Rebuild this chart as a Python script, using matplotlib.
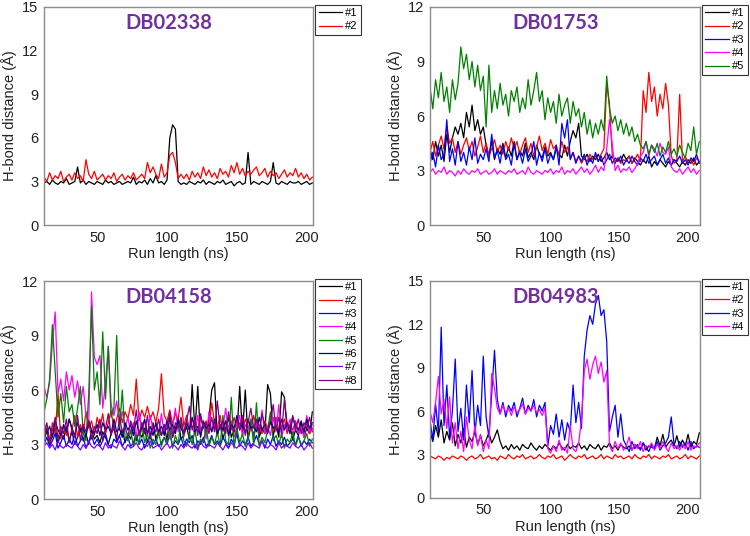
import numpy as np
import matplotlib
matplotlib.use("Agg")
import matplotlib.pyplot as plt

plt.rcParams['font.family'] = ['Liberation Sans', 'DejaVu Sans']

# ---------------- DB02338 ----------------
db02338_1 = [2.9, 3.0, 2.8, 3.1, 2.9, 2.8, 3.0, 2.9, 3.2, 2.8,
             2.9, 3.0, 4.0, 2.9, 3.1, 2.8, 3.0, 2.9, 2.8, 3.0,
             2.9, 2.8, 3.1, 2.9, 3.0, 2.8, 2.9, 3.0, 2.8, 2.9,
             3.0, 2.9, 3.3, 2.8, 3.0, 2.9, 3.1, 2.8, 3.2, 2.9,
             3.4, 2.9, 3.0, 2.8, 3.1, 6.0, 6.9, 6.6, 3.0, 2.8,
             2.9, 2.8, 3.0, 2.9, 2.8, 3.0, 2.9, 3.1, 2.8, 3.0,
             2.9, 2.8, 3.0, 2.9, 3.1, 2.8, 2.9, 3.0, 2.7, 2.9,
             3.0, 2.8, 2.9, 5.0, 2.8, 3.0, 2.9, 2.8, 3.0, 2.9,
             2.8, 3.0, 4.3, 2.9, 2.8, 3.0, 2.9, 2.8, 3.0, 2.9,
             2.9, 3.0, 2.8, 2.9, 3.0, 2.8, 2.9]
db02338_2 = [3.3, 3.0, 3.6, 3.1, 3.4, 3.2, 3.7, 3.0, 3.3, 3.5,
             3.1, 3.6, 3.2, 3.4, 3.0, 4.5, 3.5, 3.2, 3.7, 3.1,
             3.3, 3.5, 3.1, 3.4, 3.2, 3.6, 3.0, 3.3, 3.5, 3.1,
             3.4, 3.2, 3.6, 3.1, 3.3, 3.5, 3.2, 4.3, 3.6, 4.0,
             3.5, 3.2, 4.2, 3.3, 3.6, 4.8, 5.0, 4.3, 3.2, 3.5,
             3.2, 3.5, 3.1, 3.7, 3.3, 3.6, 3.2, 4.0, 3.4, 3.8,
             3.3, 3.6, 3.2, 3.9, 3.5, 3.7, 3.3, 4.1, 3.6, 4.3,
             3.5, 3.9, 3.4, 3.7, 3.5, 3.8, 4.0, 3.4, 3.6, 3.9,
             3.3, 3.7, 3.4, 3.6, 3.2, 3.5, 3.8, 3.3, 3.6, 3.4,
             3.9, 3.3, 3.6, 3.2, 3.5, 3.1, 3.3]

# ---------------- DB01753 ----------------
db01753_1 = [4.2, 3.6, 4.6, 3.8, 4.4, 3.5, 5.0, 4.0, 4.8, 5.4,
             5.0, 5.6, 4.8, 6.2, 5.4, 6.6, 5.2, 5.8, 5.0, 5.4,
             4.4, 3.8, 4.6, 3.6, 4.2, 3.9, 4.5, 3.7, 4.3, 3.8,
             4.6, 3.6, 4.1, 3.8, 4.5, 3.7, 4.0, 3.6, 4.4, 3.9,
             3.7, 4.3, 3.8, 4.0, 3.6, 4.2, 3.9, 3.7, 4.4, 3.8,
             4.6, 5.2, 4.8, 5.6, 3.8, 3.6, 3.9, 3.5, 3.8, 3.6,
             3.9, 3.5, 3.7, 4.0, 3.6, 3.8, 3.4, 3.7, 3.5, 3.9,
             3.6, 3.8, 3.4, 3.7, 3.5, 3.3, 3.6, 3.4, 3.8, 3.2,
             3.5, 3.3, 3.6, 3.4, 3.2, 3.5, 3.3, 3.6, 3.4, 3.2,
             3.5, 3.3, 3.6, 3.4, 3.7, 3.3, 3.5]
db01753_2 = [4.0, 4.6, 3.8, 4.4, 4.9, 4.2, 5.4, 4.5, 4.8, 4.0,
             4.6, 3.9, 4.4, 4.8, 4.1, 4.6, 3.8, 4.3, 4.9, 4.0,
             4.5, 3.8, 4.2, 4.7, 4.0, 4.4, 3.9, 4.6, 4.1, 4.8,
             4.2, 4.6, 3.9, 4.4, 4.8, 4.0, 4.5, 3.8, 4.3, 4.9,
             4.1, 4.5, 3.9, 4.7, 4.2, 4.4, 3.8, 4.6, 4.0, 4.3,
             3.7, 4.0, 3.5, 3.8, 3.4, 3.7, 3.5, 3.9, 3.6, 3.8,
             3.5, 3.9, 4.2, 7.8, 6.6, 3.8, 3.5, 3.7, 3.4, 3.6,
             3.5, 3.8, 3.4, 3.6, 3.9, 3.5, 7.4, 6.2, 8.4, 6.8,
             7.6, 6.0, 7.2, 6.4, 7.8, 6.6, 3.8, 3.4, 3.6, 7.2,
             3.5, 3.8, 3.4, 3.6, 3.3, 3.7, 3.5]
db01753_3 = [3.4, 4.0, 3.2, 4.4, 3.6, 3.9, 5.8, 3.5, 4.2, 3.3,
             4.6, 3.5, 4.0, 3.3, 4.3, 3.6, 4.8, 3.4, 3.9, 3.6,
             4.2, 3.5, 5.0, 3.7, 4.1, 3.4, 4.4, 3.6, 3.9, 3.3,
             4.5, 3.6, 4.0, 3.4, 4.2, 3.5, 3.8, 4.6, 3.3, 4.0,
             3.5, 4.2, 3.4, 3.9, 3.6, 4.4, 3.3, 5.6, 4.8, 5.8,
             3.6, 4.0, 3.4, 3.8, 3.5, 3.9, 3.3, 3.7, 3.4, 4.0,
             3.5, 3.8, 3.3, 3.6, 3.9, 3.4, 3.7, 3.5, 3.8, 3.3,
             3.6, 3.4, 3.8, 3.5, 3.3, 3.7, 3.5, 3.9, 3.4, 3.6,
             3.8, 3.3, 3.6, 3.9, 3.4, 3.7, 3.3, 3.6, 3.5, 3.8,
             3.4, 3.6, 3.3, 3.7, 3.5, 3.9, 3.4]
db01753_4 = [2.9, 3.1, 2.8, 3.0, 2.9, 3.2, 2.8, 3.0, 2.9, 2.7,
             3.0, 2.8, 3.1, 2.9, 2.8, 3.0, 2.9, 3.1, 2.8, 2.9,
             3.0, 2.8, 2.9, 3.1, 2.8, 3.0, 2.9, 2.8, 3.0, 2.9,
             3.1, 2.8, 2.9, 3.0, 2.8, 3.2, 2.9, 2.8, 3.0, 2.9,
             2.8, 3.0, 2.9, 3.1, 2.8, 3.0, 2.9, 3.2, 2.8, 3.0,
             2.9, 3.1, 2.8, 3.0, 3.2, 2.9, 3.1, 2.8, 3.0, 3.3,
             2.9, 3.2, 3.0, 4.2, 5.8, 4.4, 3.0, 3.3, 2.9, 3.1,
             3.0, 3.2, 2.9, 3.1, 3.4, 3.8, 4.0, 4.6, 3.8, 4.4,
             4.2, 3.8, 4.5, 4.0, 3.9, 4.3, 3.2, 3.0, 2.9, 3.1,
             2.8, 3.0, 3.2, 2.9, 3.1, 2.8, 3.0]
db01753_5 = [7.6, 6.4, 8.0, 7.0, 8.4, 6.8, 7.6, 6.2, 8.0, 6.9,
             7.8, 9.8, 8.6, 9.4, 8.0, 9.0, 7.6, 8.8, 7.4, 8.2,
             5.4, 8.8, 6.2, 7.4, 6.4, 7.8, 6.6, 7.2, 6.0, 7.4,
             6.8, 7.6, 6.2, 7.0, 6.4, 8.0, 6.6, 7.4, 8.4, 6.8,
             7.4, 5.8, 7.0, 6.2, 6.8, 5.6, 7.2, 6.0, 6.6, 7.0,
             5.6, 6.8, 6.0, 6.4, 5.4, 6.2, 5.0, 5.8, 4.8, 5.6,
             5.0, 5.8, 5.2, 8.2, 6.4, 5.6, 6.0, 5.2, 5.8, 5.0,
             5.6, 4.9, 5.4, 4.6, 5.0, 4.4, 4.2, 4.6, 3.9, 4.4,
             4.0, 4.5, 3.8, 4.3, 4.0, 4.6, 3.9, 4.2, 3.8, 4.4,
             4.0, 3.7, 4.5, 4.1, 5.4, 3.9, 4.6]

# ---------------- DB04158 ----------------
db04158_1 = [3.2, 3.8, 3.0, 3.5, 3.9, 3.1, 3.6, 3.3, 4.0, 3.2,
             3.7, 3.0, 3.4, 3.9, 3.2, 3.6, 3.0, 3.8, 3.3, 3.5,
             3.1, 3.7, 3.4, 3.0, 3.6, 3.9, 3.2, 3.5, 3.8, 3.1,
             3.6, 3.3, 4.0, 3.2, 3.7, 3.4, 3.9, 3.1, 3.5, 4.2,
             3.3, 3.8, 3.5, 4.1, 3.2, 4.6, 3.4, 3.9, 4.4, 3.3,
             3.5, 4.0, 3.3, 6.3, 3.8, 6.2, 3.4, 4.2, 3.6, 4.4,
             6.0, 6.4, 3.5, 4.1, 3.3, 3.9, 4.5, 3.4, 3.8, 3.5,
             6.2, 3.6, 6.0, 3.3, 4.0, 3.5, 4.3, 3.4, 3.9, 3.6,
             6.3, 5.8, 3.5, 4.1, 3.4, 5.9, 5.6, 3.7, 4.0, 3.3,
             3.8, 3.5, 4.2, 3.4, 3.9, 3.6, 4.8]
db04158_2 = [3.4, 3.9, 3.1, 4.2, 3.6, 5.8, 3.3, 4.0, 3.5, 4.4,
             3.8, 4.6, 3.4, 4.1, 3.6, 4.8, 3.9, 4.3, 3.5, 4.5,
             3.9, 4.7, 3.6, 4.2, 4.9, 3.8, 4.4, 5.0, 4.2, 4.8,
             4.4, 5.2, 4.6, 6.6, 4.3, 4.9, 4.5, 5.1, 4.4, 4.8,
             4.2, 5.0, 6.9, 4.6, 4.3, 4.9, 4.1, 4.7, 4.4, 5.6,
             4.0, 4.6, 3.8, 4.4, 4.1, 3.7, 4.5, 3.9, 4.3, 3.8,
             5.3, 4.2, 3.9, 4.6, 3.7, 4.3, 4.0, 3.8, 4.5, 3.9,
             4.2, 3.7, 4.4, 4.0, 3.8, 4.6, 3.9, 4.1, 3.6, 4.3,
             3.9, 4.2, 3.7, 4.5, 3.8, 4.0, 4.4, 3.6, 4.1, 3.8,
             4.3, 3.7, 4.0, 3.8, 4.2, 3.6, 3.9]
db04158_3 = [3.0, 3.4, 2.9, 3.2, 3.6, 2.8, 3.1, 3.5, 2.9, 3.3,
             3.0, 3.6, 2.9, 3.2, 3.4, 2.8, 3.1, 3.5, 3.0, 3.3,
             2.9, 3.2, 3.6, 3.0, 2.8, 3.3, 3.1, 3.5, 2.9, 3.2,
             3.4, 2.9, 3.1, 3.6, 3.0, 3.3, 2.8, 3.2, 3.5, 3.0,
             3.3, 2.9, 3.1, 3.4, 3.0, 3.6, 2.9, 3.2, 3.0, 3.4,
             2.9, 3.3, 3.1, 3.5, 2.8, 3.2, 3.0, 3.4, 2.9, 3.1,
             3.5, 3.0, 3.2, 2.9, 3.4, 3.1, 2.8, 3.3, 3.0, 3.6,
             2.9, 3.2, 3.0, 3.4, 2.9, 3.1, 3.5, 3.0, 3.2, 2.8,
             3.3, 3.0, 3.5, 2.9, 3.2, 3.0, 3.4, 2.9, 3.1, 3.3,
             3.0, 3.5, 2.9, 3.2, 3.0, 3.3, 3.1]
db04158_4 = [6.2, 5.6, 6.4, 8.6, 10.3, 5.8, 6.6, 5.4, 7.0, 6.0,
             6.8, 5.6, 6.5, 5.2, 6.2, 4.6, 4.2, 11.4, 7.8, 7.4,
             7.9, 5.0, 6.4, 8.4, 5.2, 4.6, 5.4, 4.2, 4.8, 3.9,
             4.5, 3.6, 4.2, 3.4, 4.8, 3.7, 4.3, 3.5, 4.6, 3.8,
             4.1, 3.5, 4.7, 3.6, 4.4, 3.3, 4.0, 5.0, 3.7, 4.2,
             3.4, 4.5, 3.8, 4.0, 3.5, 4.6, 3.6, 4.2, 3.3, 4.8,
             3.7, 4.1, 3.5, 4.4, 3.9, 5.0, 3.6, 4.3, 3.4, 4.0,
             4.6, 3.5, 4.1, 3.8, 4.4, 3.3, 4.2, 3.7, 4.9, 3.6,
             4.0, 3.5, 4.5, 3.7, 5.2, 3.4, 4.1, 3.8, 4.4, 3.5,
             4.2, 3.6, 4.0, 3.4, 4.6, 3.7, 4.1]
db04158_5 = [4.8, 5.5, 6.6, 9.6, 7.0, 4.5, 5.8, 4.2, 6.2, 4.8,
             5.2, 4.0, 5.0, 6.2, 3.6, 3.2, 5.8, 10.6, 6.0, 7.0,
             5.2, 9.2, 5.5, 8.4, 4.5, 5.0, 9.0, 3.8, 6.0, 3.4,
             3.2, 3.8, 2.9, 3.5, 3.0, 4.2, 3.1, 3.6, 2.8, 3.3,
             3.0, 3.7, 2.9, 3.4, 3.1, 3.9, 2.8, 3.5, 3.0, 4.4,
             3.2, 2.9, 3.6, 3.0, 3.8, 2.8, 3.3, 3.1, 4.0, 2.9,
             3.4, 3.0, 3.7, 2.9, 4.6, 3.2, 3.0, 5.6, 2.8, 3.9,
             3.1, 3.6, 2.9, 3.3, 4.4, 3.0, 5.3, 2.9, 3.4, 3.1,
             3.8, 4.8, 3.2, 3.5, 3.0, 3.6, 2.8, 3.3, 3.1, 3.7,
             2.9, 3.4, 3.0, 3.2, 3.6, 2.9, 3.3]
db04158_6 = [4.2, 3.6, 4.0, 3.4, 4.3, 3.8, 3.5, 4.1, 3.7, 4.4,
             3.9, 3.5, 4.2, 3.7, 4.0, 3.4, 4.3, 3.8, 3.6, 4.1,
             3.5, 4.2, 3.8, 4.0, 3.6, 4.4, 3.7, 3.9, 3.4, 4.2,
             3.8, 4.1, 3.5, 4.3, 3.7, 3.9, 4.4, 3.6, 4.0, 3.5,
             4.2, 3.7, 4.0, 3.5, 4.3, 3.8, 4.1, 3.6, 4.4, 3.9,
             3.6, 4.2, 3.8, 4.5, 3.7, 4.0, 3.5, 4.3, 3.9, 4.1,
             3.7, 4.4, 3.6, 4.0, 3.8, 4.3, 3.5, 4.1, 3.9, 4.6,
             3.8, 4.2, 3.6, 4.4, 3.9, 4.0, 3.7, 4.5, 3.8, 4.1,
             3.6, 4.3, 3.9, 4.0, 3.7, 4.4, 3.8, 4.2, 3.6, 4.5,
             4.0, 3.8, 4.3, 3.7, 4.4, 3.9, 4.2]
db04158_7 = [2.9, 3.1, 2.8, 3.0, 2.7, 3.2, 2.9, 2.8, 3.0, 2.9,
             2.8, 3.1, 2.9, 2.7, 3.0, 2.8, 3.2, 2.9, 2.8, 3.0,
             2.9, 2.7, 3.1, 2.8, 3.0, 2.9, 2.8, 3.2, 2.9, 2.7,
             3.0, 2.8, 2.9, 3.1, 2.8, 2.7, 3.0, 2.9, 3.2, 2.8,
             2.9, 3.0, 2.7, 2.9, 3.1, 2.8, 3.0, 2.9, 2.7, 3.0,
             2.8, 3.1, 2.9, 2.8, 3.0, 2.7, 3.2, 2.9, 2.8, 3.0,
             2.9, 2.8, 3.1, 2.9, 2.7, 3.0, 2.8, 3.1, 2.9, 2.8,
             3.0, 2.9, 2.7, 3.1, 2.8, 3.0, 2.9, 2.8, 3.2, 2.9,
             2.8, 3.0, 2.9, 2.7, 3.1, 2.8, 3.0, 2.9, 2.8, 3.1,
             2.9, 2.8, 3.0, 2.7, 2.9, 3.1, 2.8]
db04158_8 = [3.5, 4.2, 3.2, 3.8, 4.5, 3.3, 4.0, 3.6, 4.4, 3.1,
             3.9, 3.4, 4.6, 3.2, 4.1, 3.7, 4.3, 3.3, 4.0, 3.6,
             4.4, 3.2, 3.9, 4.7, 3.5, 4.1, 3.3, 4.5, 3.7, 4.0,
             3.4, 4.3, 3.8, 4.9, 3.5, 4.2, 3.6, 4.6, 3.3, 4.0,
             3.7, 4.4, 3.5, 4.1, 3.8, 4.8, 3.4, 4.2, 3.9, 4.5,
             3.6, 4.3, 5.1, 3.8, 4.4, 3.5, 4.7, 3.9, 4.2, 3.6,
             4.5, 3.7, 5.4, 3.9, 4.3, 3.6, 4.8, 4.0, 3.7, 4.4,
             3.8, 4.6, 3.5, 4.2, 5.0, 3.9, 4.4, 3.6, 4.7, 4.0,
             3.7, 4.3, 5.2, 3.8, 4.5, 3.6, 5.5, 4.1, 3.9, 4.6,
             3.8, 4.4, 3.6, 4.2, 3.9, 4.5, 3.7]

# ---------------- DB04983 ----------------
db04983_1 = [4.6, 3.9, 5.0, 4.2, 5.4, 3.8, 4.6, 4.0, 5.2, 3.6,
             4.4, 3.8, 4.8, 3.5, 4.2, 3.9, 4.6, 3.7, 4.3, 3.6,
             4.0, 4.5, 3.8, 4.2, 4.7, 3.9, 3.4, 3.6, 3.3, 3.7,
             3.4, 3.6, 3.3, 3.7, 3.5, 3.4, 3.8, 3.5, 3.3, 3.6,
             3.4, 3.7, 3.5, 3.3, 3.6, 3.4, 3.8, 3.5, 3.3, 3.7,
             3.4, 3.6, 3.5, 3.8, 3.4, 3.6, 3.3, 3.7, 3.5, 3.4,
             3.7, 3.3, 3.6, 3.5, 3.8, 3.4, 3.6, 3.3, 3.7, 3.5,
             3.4, 3.6, 3.3, 3.7, 3.5, 3.4, 3.8, 3.3, 3.6, 3.5,
             3.4, 4.2, 3.6, 4.4, 3.5, 3.8, 4.0, 3.6, 4.3, 3.5,
             4.0, 3.6, 4.4, 3.5, 3.9, 3.7, 4.5]
db04983_2 = [2.9, 2.8, 2.7, 2.9, 2.8, 2.6, 2.8, 2.7, 2.9, 2.8,
             2.7, 2.9, 2.8, 2.6, 2.8, 2.9, 2.7, 2.8, 3.0, 2.7,
             2.8, 2.9, 2.7, 2.8, 2.6, 2.9, 2.8, 2.7, 3.0, 2.8,
             2.7, 2.9, 2.8, 3.0, 2.7, 2.8, 2.9, 2.7, 2.8, 3.0,
             2.8, 2.7, 2.9, 2.8, 3.0, 2.7, 2.8, 2.9, 2.6, 2.8,
             3.0, 2.8, 2.7, 2.9, 2.8, 3.0, 2.7, 2.8, 2.9, 2.7,
             2.8, 3.0, 2.7, 2.9, 2.8, 2.7, 3.0, 2.8, 2.9, 2.7,
             2.8, 2.9, 2.7, 3.0, 2.8, 2.7, 2.9, 2.8, 3.0, 2.7,
             2.9, 2.8, 2.7, 2.9, 2.8, 3.0, 2.7, 2.8, 2.9, 2.7,
             2.8, 3.0, 2.7, 2.9, 2.8, 2.7, 2.9]
db04983_3 = [5.4, 4.0, 6.5, 4.5, 11.8, 5.0, 7.8, 4.2, 6.0, 9.6,
             4.6, 6.2, 4.0, 7.8, 5.2, 8.8, 4.4, 6.4, 5.0, 9.8,
             5.6, 4.2, 7.2, 10.2, 6.8, 5.8, 6.6, 5.6, 6.4, 6.0,
             6.6, 5.6, 6.2, 6.9, 5.8, 6.4, 6.0, 6.8, 5.6, 6.4,
             6.0, 6.6, 3.6, 5.0, 4.4, 5.8, 4.2, 5.4, 4.0, 5.2,
             4.6, 7.8, 5.2, 6.6, 4.8, 9.8, 11.6, 12.6, 12.0, 13.4,
             14.0, 12.6, 13.0, 10.8, 4.6, 5.6, 6.4, 4.2, 5.8, 4.0,
             3.6, 3.2, 3.9, 3.4, 3.7, 3.3, 3.8, 3.5, 3.2, 3.7,
             3.4, 3.9, 3.3, 3.6, 3.8, 4.2, 5.6, 3.7, 3.4, 3.9,
             3.5, 3.8, 3.3, 3.9, 3.4, 3.6, 3.5]
db04983_4 = [6.0, 5.2, 6.6, 8.4, 5.8, 6.8, 4.8, 7.0, 3.8, 5.2,
             3.4, 4.6, 3.2, 5.6, 4.0, 3.4, 5.0, 3.6, 4.4, 3.2,
             4.0, 3.4, 8.6, 7.6, 6.2, 5.8, 6.4, 5.9, 6.2, 5.7,
             6.3, 5.9, 6.1, 6.5, 5.8, 6.2, 6.0, 6.4, 5.9, 6.1,
             5.7, 6.2, 3.4, 3.1, 3.6, 3.2, 4.0, 3.3, 3.5, 3.1,
             5.0, 3.4, 3.2, 3.8, 5.4, 8.8, 9.6, 8.2, 9.2, 9.8,
             8.6, 9.4, 8.0, 8.8, 3.6, 3.2, 3.9, 3.4, 3.8, 3.3,
             3.6, 4.2, 3.3, 3.7, 3.4, 3.9, 3.2, 3.6, 3.5, 3.8,
             3.3, 3.7, 3.4, 3.9, 3.5, 3.2, 3.8, 3.4, 3.6, 3.3,
             3.7, 3.4, 3.9, 3.3, 3.6, 3.5, 3.8]

panels = [
    dict(title="DB02338", xlim=(11.8, 204.7), ylim=15, yticks=[0, 3, 6, 9, 12, 15],
         series=[db02338_1, db02338_2], colors=["#000000", "#ff0000"]),
    dict(title="DB01753", xlim=(10.5, 209.5), ylim=12, yticks=[0, 3, 6, 9, 12],
         series=[db01753_1, db01753_2, db01753_3, db01753_4, db01753_5],
         colors=["#000000", "#ff0000", "#0000ff", "#ff00ff", "#008000"]),
    dict(title="DB04158", xlim=(11.8, 204.7), ylim=12, yticks=[0, 3, 6, 9, 12],
         series=[db04158_1, db04158_2, db04158_3, db04158_4, db04158_5,
                 db04158_6, db04158_7, db04158_8],
         colors=["#000000", "#ff0000", "#0000ff", "#ff00ff", "#008000",
                 "#000080", "#8000ff", "#800080"]),
    dict(title="DB04983", xlim=(10.5, 209.5), ylim=15, yticks=[0, 3, 6, 9, 12, 15],
         series=[db04983_1, db04983_2, db04983_3, db04983_4],
         colors=["#000000", "#ff0000", "#0000ff", "#ff00ff"]),
]

# axes boxes in figure fractions (left, bottom, width, height)
boxes = [(0.0587, 0.580, 0.3587, 0.407),
         (0.5733, 0.580, 0.3600, 0.407),
         (0.0587, 0.069, 0.3587, 0.4067),
         (0.5733, 0.071, 0.3600, 0.405)]

fig = plt.figure(figsize=(7.5, 5.36), dpi=100)

for p, box in zip(panels, boxes):
    ax = fig.add_axes(box)
    n = len(p["series"][0])
    # sampling times span the visible run length
    t = np.linspace(p["xlim"][0], p["xlim"][1] - 0.5, n)
    for k, (vals, col) in enumerate(zip(p["series"], p["colors"])):
        ax.plot(t, vals, color=col, lw=0.9, label="#%d" % (k + 1))

    ax.set_xlim(*p["xlim"])
    ax.set_ylim(0, p["ylim"])
    ax.set_xticks([50, 100, 150, 200])
    ax.set_yticks(p["yticks"])
    ax.tick_params(length=0, labelsize=10.5, colors="#222222", pad=4)
    for s in ax.spines.values():
        s.set_color("#8c8c8c")
        s.set_linewidth(1.0)
    ax.set_xlabel("Run length (ns)", fontsize=10.5, color="#222222", labelpad=2)
    ax.set_ylabel("H-bond distance (Å)", fontsize=10.5, color="#222222", labelpad=4)

    ax.text(0.465, 0.925, p["title"], transform=ax.transAxes, ha="center", va="center",
            fontsize=14.5, fontweight="bold", color="#7030a0", family="Lato")

    leg = ax.legend(loc="upper left", bbox_to_anchor=(1.008, 1.01), fontsize=8,
                    frameon=True, fancybox=False, handlelength=2.1, handletextpad=0.3,
                    labelspacing=0.3, borderpad=0.3, borderaxespad=0)
    leg.get_frame().set_edgecolor("#000000")
    leg.get_frame().set_linewidth(0.8)

fig.savefig("out.png", dpi=100)
